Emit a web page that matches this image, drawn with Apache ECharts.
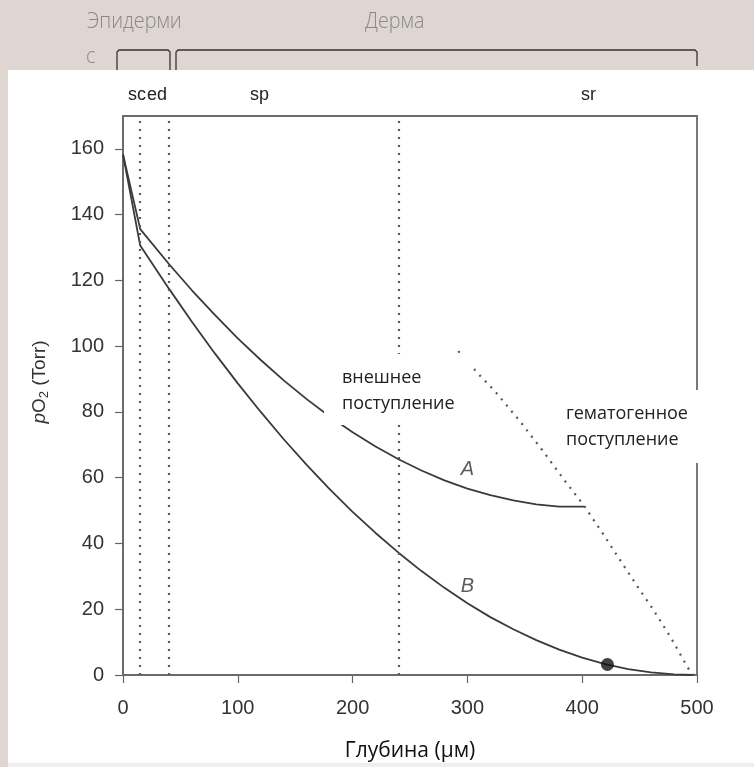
<!DOCTYPE html>
<html>
<head>
<meta charset="utf-8">
<script src="https://cdn.jsdelivr.net/npm/echarts@6/dist/echarts.min.js"></script>
<style>
html,body{margin:0;padding:0;background:#fff;}
#c{width:754px;height:767px;}
</style>
</head>
<body>
<div id="c"></div>
<script>
// ---- data ----
const depthB = [0,15,40,60,80,100,120,140,160,180,200,220,240,260,280,300,320,340,360,380,400,420,440,460,480,497];
const curveB = [158.3,130.6,117.5,107.4,97.8,88.7,80,71.7,63.9,56.5,49.6,43.2,37.2,31.6,26.5,21.8,17.6,13.9,10.6,7.7,5.3,3.3,1.8,0.8,0.2,0];
const depthA = [0,15,40,60,80,100,120,140,160,180,200,220,240,260,280,300,320,340,360,380,402];
const curveA = [158.3,135.6,125,117,109.5,102.4,95.8,89.6,83.9,78.6,73.8,69.5,65.6,62.2,59.2,56.7,54.7,53.1,51.9,51.2,51.2];
const depthHem = [292,311,324,345,365,385,402,418,434,448,462,477,492,497];
const curveHem = [98.5,91,86.3,77.5,68.5,59,51.3,43,34.4,27,19.8,11.5,2.2,0];
const layerBounds = [15,40,240];
const dotPoint = [422,3.2];
const labelA = [300,62.5];
const labelB = [300,27];
const yTicks = [0,20,40,60,80,100,120,140,160];
const xTicks = [0,100,200,300,400,500];
const layerNames = ['sc','ed','sp','sr'];

const zip = (xs, ys) => xs.map((x,i)=>[x, ys[i]]);
const chart = echarts.init(document.getElementById('c'));
const lineCol = '#3a3a3a';
const TF = 'Liberation Sans, Arial, sans-serif';
const HF = {fontFamily:'Open Sans',fontWeight:300,fontSize:22,fill:'#888'};

chart.setOption({
  animation:false,
  backgroundColor:'#fff',
  grid:{left:123,right:57,top:116,bottom:88,show:true,borderColor:'#6a6a6a',borderWidth:1.8,backgroundColor:'transparent'},
  xAxis:{
    type:'value',min:0,max:500,interval:100,
    name:'Глубина (μм)',nameLocation:'middle',nameGap:66,
    nameTextStyle:{fontFamily:'Open Sans',fontSize:21,color:'#111'},
    axisLine:{show:true,lineStyle:{color:'#6a6a6a',width:1.8}},
    axisTick:{show:true,length:8,lineStyle:{color:'#666',width:1.2},customValues:xTicks},
    axisLabel:{fontFamily:TF,fontSize:20,color:'#333',margin:23,customValues:xTicks},
    splitLine:{show:false}
  },
  yAxis:{
    type:'value',min:0,max:170,interval:20,
    axisLine:{show:true,lineStyle:{color:'#6a6a6a',width:1.8}},
    axisTick:{show:true,length:8,lineStyle:{color:'#666',width:1.2},customValues:yTicks},
    axisLabel:{fontFamily:TF,fontSize:20,color:'#333',margin:19,customValues:yTicks},
    splitLine:{show:false}
  },
  series:[
    {type:'line',data:zip(depthB,curveB),showSymbol:false,symbol:'none',lineStyle:{color:lineCol,width:1.8},z:3,
     markLine:{silent:true,symbol:'none',label:{show:false},
       lineStyle:{type:[2,6],width:2.2,color:'#5a5a5a'},
       data:layerBounds.map(v=>({xAxis:v}))}},
    {type:'line',data:zip(depthA,curveA),showSymbol:false,symbol:'none',lineStyle:{color:lineCol,width:1.8},z:3},
    {type:'line',data:zip(depthHem,curveHem),showSymbol:false,symbol:'none',lineStyle:{color:'#555',width:2.2,type:[2,6]},z:3},
    {type:'scatter',data:[dotPoint],symbolSize:13,itemStyle:{color:'#111'},z:4},
    {type:'scatter',data:[labelA,labelB],symbolSize:0,z:4,
     label:{show:true,position:'inside',fontFamily:TF,fontSize:20,fontStyle:'italic',color:'#333',
       formatter:p=>p.dataIndex===0?'A':'B'}}
  ],
  graphic:[
    {type:'rect',shape:{x:0,y:0,width:754,height:70},style:{fill:'#e0d6d1'},z:50},
    {type:'rect',shape:{x:0,y:70,width:8,height:697},style:{fill:'#e0d6d1'},z:50},
    {type:'rect',shape:{x:8,y:763,width:746,height:4},style:{fill:'#f1efee'},z:50},
    {type:'text',x:87,y:11,scaleX:0.9,style:Object.assign({text:'Эпидерми'},HF),z:51},
    {type:'text',x:86,y:46,scaleX:0.9,style:Object.assign({text:'с'},HF),z:51},
    {type:'text',x:365,y:11,scaleX:0.9,style:Object.assign({text:'Дерма'},HF),z:51},
    {type:'polyline',shape:{points:[[117,70],[117,52],[119,50],[168,50],[170,52],[170,70]]},style:{stroke:'#333',lineWidth:1.3,fill:null},z:52},
    {type:'polyline',shape:{points:[[176,70],[176,52],[178,50],[695,50],[697,52],[697,66]]},style:{stroke:'#333',lineWidth:1.3,fill:null},z:52},
    {type:'text',left:128,top:86,style:{text:layerNames[0],fontFamily:TF,fontSize:18,fill:'#222'},z:51},
    {type:'text',left:147,top:86,style:{text:layerNames[1],fontFamily:TF,fontSize:18,fill:'#222'},z:51},
    {type:'text',left:250,top:86,style:{text:layerNames[2],fontFamily:TF,fontSize:18,fill:'#222'},z:51},
    {type:'text',left:581,top:86,style:{text:layerNames[3],fontFamily:TF,fontSize:18,fill:'#222'},z:51},
    {type:'text',x:40,y:382,rotation:Math.PI/2,
     style:{text:'{i|p}O{s|2} (Torr)',align:'center',verticalAlign:'middle',fontFamily:TF,fontSize:19,fill:'#333',
       rich:{i:{fontFamily:TF,fontSize:19,fontStyle:'italic',fill:'#333'},
             s:{fontFamily:TF,fontSize:13,fill:'#333',padding:[8,0,0,0]}}},z:51},
    {type:'rect',shape:{x:324,y:354,width:148,height:71},style:{fill:'#fff'},z:60},
    {type:'text',left:342,top:365,style:{text:'внешнее\nпоступление',fontFamily:'Open Sans',fontSize:18,lineHeight:26,fill:'#222'},z:61},
    {type:'rect',shape:{x:553,y:390,width:159,height:73},style:{fill:'#fff'},z:60},
    {type:'text',left:566,top:401,style:{text:'гематогенное\nпоступление',fontFamily:'Open Sans',fontSize:18,lineHeight:26,fill:'#222'},z:61}
  ]
});
</script>
</body>
</html>
